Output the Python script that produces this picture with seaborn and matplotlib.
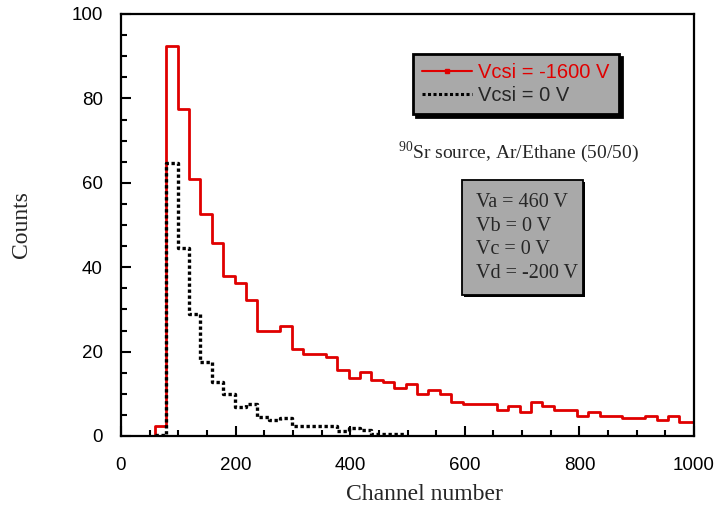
import numpy as np
import pandas as pd
import matplotlib
matplotlib.use("Agg")
import matplotlib.pyplot as plt
import seaborn as sns
from matplotlib.lines import Line2D
from matplotlib.patches import Rectangle
from matplotlib.ticker import MultipleLocator

# Histogram binning (channel number)
bin_start = 59
bin_width = 19.9

# Counts per bin, Vcsi = -1600 V
red_counts = [2.4, 92.3, 77.5, 60.8, 52.5, 45.8, 37.8, 36.3, 32.2, 25.0,
              25.0, 26.1, 20.7, 19.4, 19.4, 18.8, 15.6, 13.7, 15.2, 13.2,
              12.8, 11.3, 12.4, 9.9, 10.9, 9.9, 8.0, 7.5, 7.5, 7.5,
              6.1, 7.1, 5.6, 8.0, 7.1, 6.1, 6.1, 4.7, 5.7, 4.7,
              4.7, 4.2, 4.2, 4.8, 3.8, 4.8, 3.2, 3.2]

# Counts per bin, Vcsi = 0 V
black_counts = [0.3, 64.7, 44.6, 28.9, 17.6, 12.8, 9.9, 6.9, 7.5, 4.6,
                3.7, 4.3, 2.3, 2.3, 2.3, 2.3, 1.3, 1.8, 1.4, 0.4,
                0.4, 0.4]

legend_labels = ["Vcsi = -1600 V", "Vcsi = 0 V"]
source_text = r"$^{\mathrm{90}}$Sr source, Ar/Ethane (50/50)"
voltage_lines = ["Va = 460 V", "Vb = 0 V", "Vc = 0 V", "Vd = -200 V"]

RED = "#e00000"
GRAY = "#a9a9a9"


def step_frame(counts, lead_zero=False):
    edges = bin_start + bin_width * np.arange(len(counts) + 1)
    x = list(edges)
    y = list(counts) + [counts[-1]]
    if lead_zero:
        x = [0] + x
        y = [0] + y
    return pd.DataFrame({"channel": x, "counts": y})


sns.set_theme(style="ticks")
plt.rcParams["font.family"] = ["Liberation Sans", "DejaVu Sans"]
plt.rcParams["mathtext.fontset"] = "custom"
plt.rcParams["mathtext.rm"] = "Liberation Serif"
serif = ["Liberation Serif", "DejaVu Serif"]

fig = plt.figure(figsize=(7.16, 5.13), dpi=100)
ax = fig.add_axes([121 / 716, 1 - 436 / 513, (694 - 121) / 716, (436 - 14) / 513])

red_df = step_frame(red_counts, lead_zero=True)
black_df = step_frame(black_counts)

sns.lineplot(data=red_df, x="channel", y="counts", ax=ax, color=RED,
             linewidth=2.0, drawstyle="steps-post", estimator=None, sort=False,
             zorder=2)
sns.lineplot(data=black_df, x="channel", y="counts", ax=ax, color="black",
             linewidth=2.4, linestyle=(0, (1.0, 0.8)), drawstyle="steps-post",
             estimator=None, sort=False, zorder=3)

ax.set_xlim(0, 1000)
ax.set_ylim(0, 100)
ax.xaxis.set_major_locator(MultipleLocator(200))
ax.xaxis.set_minor_locator(MultipleLocator(50))
ax.yaxis.set_major_locator(MultipleLocator(20))
ax.yaxis.set_minor_locator(MultipleLocator(5))
ax.tick_params(which="both", direction="in", top=False, right=False,
               width=1.5, labelsize=13.5, colors="black")
ax.tick_params(axis="x", which="both", pad=15)
ax.tick_params(axis="y", which="both", pad=13)
ax.tick_params(which="major", length=7)
ax.tick_params(which="minor", length=4)
for s in ax.spines.values():
    s.set_linewidth(1.6)
    s.set_color("black")
    s.set_visible(True)

ax.set_xlabel("")
ax.set_ylabel("")
fig.text(424 / 716, 1 - 495 / 513, "Channel number", family=serif,
         fontsize=17, ha="center", va="center")
fig.text(22 / 716, 1 - 225 / 513, "Counts", family=serif, fontsize=17,
         rotation=90, ha="center", va="center")

# legend
handles = [
    Line2D([], [], color=RED, lw=1.5, marker="s", markersize=2.5),
    Line2D([], [], color="black", lw=2.2, linestyle=(0, (1.0, 0.8))),
]
leg = fig.legend(handles, legend_labels, loc="upper left",
                 bbox_to_anchor=(413 / 716, 1 - 54 / 513),
                 bbox_transform=fig.transFigure, borderaxespad=0,
                 fontsize=14.5, numpoints=1, handlelength=2.5,
                 handletextpad=0.3, labelspacing=0.2, borderpad=0.45,
                 fancybox=False, shadow={"color": "black", "alpha": 1.0},
                 framealpha=1.0, facecolor=GRAY, edgecolor="black")
leg.get_frame().set_linewidth(2.0)
leg.get_texts()[0].set_color(RED)

fig.text(398 / 716, 1 - 158 / 513, source_text, family=serif, fontsize=14,
         ha="left", va="baseline")

# voltage box
fig.patches.append(Rectangle((464 / 716, 1 - 297 / 513), 121 / 716, 115 / 513,
                             transform=fig.transFigure, facecolor="black",
                             edgecolor="none", zorder=4))
fig.patches.append(Rectangle((462 / 716, 1 - 295 / 513), 121 / 716, 115 / 513,
                             transform=fig.transFigure, facecolor=GRAY,
                             edgecolor="black", linewidth=1.3, zorder=5))
for i, line in enumerate(voltage_lines):
    fig.text(476 / 716, 1 - (203 + 23.5 * i) / 513, line, family=serif,
             fontsize=14.5, ha="left", va="center", zorder=6)

fig.savefig("out.png", dpi=100)
